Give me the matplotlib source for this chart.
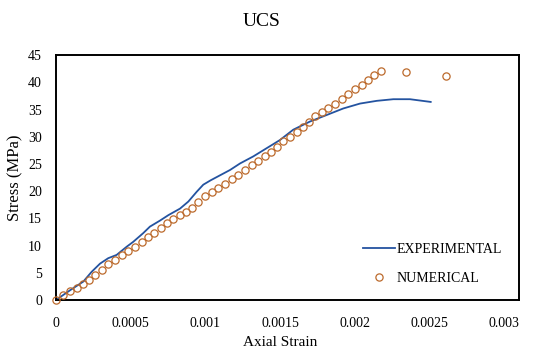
import matplotlib
matplotlib.use("Agg")
import matplotlib.pyplot as plt

plt.rcParams['font.family'] = ['Liberation Serif', 'DejaVu Serif']

# experimental curve
exp_strain = [0, 0.000015, 0.000094, 0.000183, 0.000239, 0.000295, 0.00035, 0.000406,
              0.000473, 0.000517, 0.000584, 0.000629, 0.000696, 0.000752, 0.00083,
              0.000886, 0.000942, 0.000986, 0.001035, 0.001076, 0.001165, 0.001232,
              0.001321, 0.00141, 0.001499, 0.001588, 0.0017, 0.001812, 0.001923,
              0.002035, 0.002147, 0.002258, 0.002369, 0.002508]
exp_stress = [0, 0.3, 1.8, 3.4, 5.2, 6.7, 7.7, 8.3, 9.8, 10.7, 12.3, 13.5, 14.6, 15.6,
              16.8, 18.1, 19.9, 21.2, 22.0, 22.6, 23.9, 25.1, 26.4, 27.9, 29.4, 31.3,
              32.8, 34.0, 35.2, 36.1, 36.6, 36.9, 36.9, 36.4]

# numerical points
num_strain = [0, 0.000049, 0.000094, 0.000139, 0.000183, 0.000223, 0.000261, 0.000306,
              0.00035, 0.000395, 0.00044, 0.000484, 0.000529, 0.000574, 0.000618,
              0.000656, 0.0007, 0.000741, 0.000785, 0.00083, 0.00087, 0.000908,
              0.000953, 0.000997, 0.001042, 0.001086, 0.001131, 0.001176, 0.00122,
              0.001265, 0.00131, 0.001354, 0.001399, 0.001437, 0.001477, 0.001522,
              0.001566, 0.001611, 0.001651, 0.001695, 0.001734, 0.001778, 0.001823,
              0.001867, 0.001912, 0.001957, 0.002001, 0.002046, 0.00209, 0.002129,
              0.002173, 0.002341, 0.002608]
num_stress = [0, 0.9, 1.7, 2.3, 2.9, 3.7, 4.6, 5.6, 6.6, 7.3, 8.3, 9.1, 9.8, 10.7, 11.5,
              12.4, 13.2, 14.1, 14.9, 15.6, 16.2, 17.0, 18.0, 19.1, 19.8, 20.5, 21.4,
              22.2, 23.0, 23.9, 24.8, 25.6, 26.4, 27.2, 28.2, 29.2, 30.0, 30.9, 31.8,
              32.8, 33.8, 34.6, 35.2, 36.1, 36.9, 37.8, 38.7, 39.5, 40.4, 41.3, 42.1,
              41.9, 41.2]

x_ticks = [0, 0.0005, 0.001, 0.0015, 0.002, 0.0025, 0.003]
x_tick_labels = ['0', '0.0005', '0.001', '0.0015', '0.002', '0.0025', '0.003']
y_ticks = [0, 5, 10, 15, 20, 25, 30, 35, 40, 45]

fig = plt.figure(figsize=(5.38, 3.51), dpi=100)
ax = fig.add_axes([0.104, 0.145, 0.861, 0.698])

ax.plot(exp_strain, exp_stress, color='#2453A0', lw=1.3, label='EXPERIMENTAL', zorder=2)
ax.plot(num_strain, num_stress, 'o', mfc='none', mec='#BC6A2C', ms=5.2, mew=0.9,
        label='NUMERICAL', zorder=3, clip_on=False)

ax.set_xlim(0, 0.0031)
ax.set_ylim(0, 45)
ax.set_xticks(x_ticks)
ax.set_xticklabels(x_tick_labels)
ax.set_yticks(y_ticks)
ax.tick_params(length=0, labelsize=10)
ax.tick_params(axis='x', pad=12)
ax.tick_params(axis='y', pad=10)
for s in ax.spines.values():
    s.set_linewidth(1.4)
    s.set_color('black')

ax.set_xlabel('Axial Strain', fontsize=11)
ax.set_ylabel('Stress (MPa)', fontsize=12)
ax.xaxis.set_label_coords(0.485, -0.148)
ax.yaxis.set_label_coords(-0.07, 0.5)
fig.text(0.487, 0.94, 'UCS', fontsize=14, ha='center', va='center')

ax.legend(loc='lower right', bbox_to_anchor=(0.99, 0.01), frameon=False, fontsize=10,
          handlelength=2.3, handletextpad=0.15, labelspacing=1.15)

fig.savefig('out.png', dpi=100)
